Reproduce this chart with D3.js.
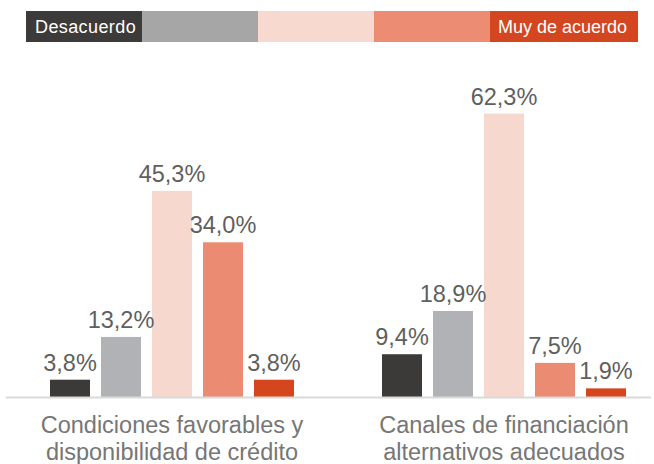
<!DOCTYPE html>
<html>
<head>
<meta charset="utf-8">
<script src="https://cdn.jsdelivr.net/npm/d3@7/dist/d3.min.js"></script>
<style>
  html, body { margin: 0; padding: 0; background: #ffffff; }
  svg { display: block; }
</style>
</head>
<body>
<svg id="chart" width="654" height="464"></svg>
<script>
// Categories (each split over two lines)
const categories = [
  ["Condiciones favorables y", "disponibilidad de crédito"],
  ["Canales de financiación", "alternativos adecuados"]
];
// Agreement levels, from "Desacuerdo" to "Muy de acuerdo"
const levels = ["Desacuerdo", "", "", "", "Muy de acuerdo"];
// Share of answers per level (%) for each category
const condicionesValues = [3.8, 13.2, 45.3, 34.0, 3.8];
const canalesValues = [9.4, 18.9, 62.3, 7.5, 1.9];
const seriesValues = [condicionesValues, canalesValues];

const barColors = ["#3b3a39", "#b1b2b5", "#f7d8cf", "#eb8b72", "#d5461f"];
const legendColors = ["#3c3b3a", "#a6a6a6", "#f7d9cf", "#eb8c73", "#d4461f"];

const svg = d3.select("#chart");
const baseY = 397;

// Scales
const groupX = d3.scalePoint()
  .domain(d3.range(categories.length))
  .range([172, 504]);

const barX = d3.scaleBand()
  .domain(d3.range(levels.length))
  .range([-122, 122])
  .paddingInner(0.2157)
  .paddingOuter(0);

const y = d3.scaleLinear()
  .domain([0, 70])
  .range([baseY, baseY - 70 * 4.55]);

const fmt = v => d3.format(".1f")(v).replace(".", ",") + "%";

// Bars and value labels
const groups = svg.selectAll("g.group")
  .data(seriesValues)
  .join("g")
  .attr("class", "group")
  .attr("transform", (d, i) => `translate(${groupX(i)},0)`);

groups.selectAll("rect")
  .data(d => d)
  .join("rect")
  .attr("x", (d, i) => barX(i))
  .attr("y", d => y(d))
  .attr("width", barX.bandwidth())
  .attr("height", d => y(0) - y(d))
  .attr("fill", (d, i) => barColors[i]);

groups.selectAll("text.value")
  .data(d => d)
  .join("text")
  .attr("class", "value")
  .attr("x", (d, i) => barX(i) + barX.bandwidth() / 2)
  .attr("y", d => y(d) - 9)
  .attr("text-anchor", "middle")
  .attr("font-family", "'Liberation Sans', Arial, sans-serif")
  .attr("font-size", 23.5)
  .attr("fill", "#5f5f5f")
  .text(d => fmt(d));

// Baseline
svg.append("line")
  .attr("x1", 6).attr("x2", 651)
  .attr("y1", y(0) + 0.5).attr("y2", y(0) + 0.5)
  .attr("stroke", "#d9d9d9")
  .attr("stroke-width", 2);

// Category labels
const catText = svg.selectAll("text.cat")
  .data(categories)
  .join("text")
  .attr("class", "cat")
  .attr("text-anchor", "middle")
  .attr("font-family", "'Liberation Sans', Arial, sans-serif")
  .attr("font-size", 23.5)
  .attr("fill", "#767676");

catText.selectAll("tspan")
  .data((d, i) => d.map(line => ({ line, i })))
  .join("tspan")
  .attr("x", d => groupX(d.i))
  .attr("y", (d, j) => 433 + j * 26.5)
  .text(d => d.line);

// Legend strip
const legendEdges = [26, 142, 258, 374, 490, 638];
const legend = svg.append("g").attr("class", "legend");
legend.selectAll("rect")
  .data(legendColors)
  .join("rect")
  .attr("x", (d, i) => legendEdges[i])
  .attr("y", 11)
  .attr("width", (d, i) => legendEdges[i + 1] - legendEdges[i])
  .attr("height", 31)
  .attr("fill", d => d);

legend.append("text")
  .attr("x", legendEdges[0] + 9)
  .attr("y", 33)
  .attr("font-family", "'Liberation Sans', Arial, sans-serif")
  .attr("font-size", 18)
  .attr("letter-spacing", 0.4)
  .attr("fill", "#ffffff")
  .text(levels[0]);

legend.append("text")
  .attr("x", legendEdges[5] - 11)
  .attr("y", 33)
  .attr("text-anchor", "end")
  .attr("font-family", "'Liberation Sans', Arial, sans-serif")
  .attr("font-size", 18)
  .attr("fill", "#ffffff")
  .text(levels[4]);
</script>
</body>
</html>
